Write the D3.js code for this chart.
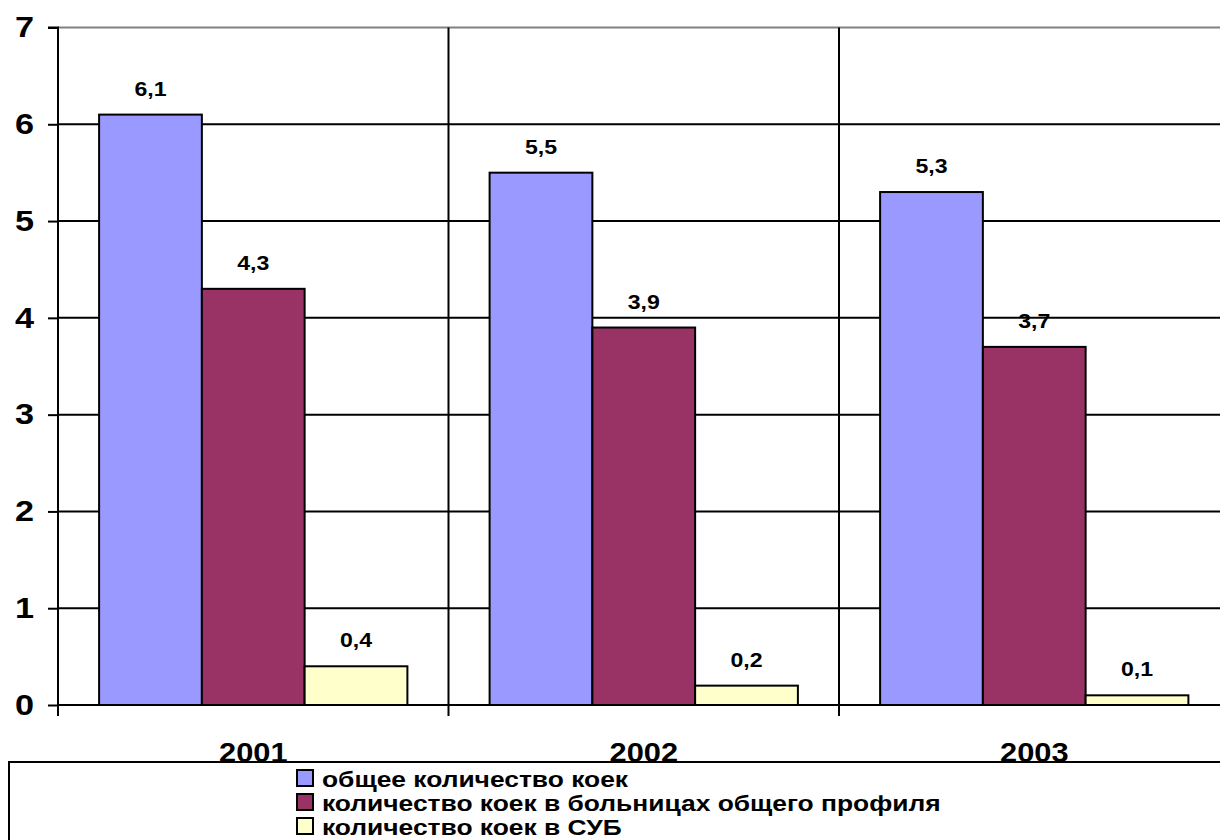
<!DOCTYPE html>
<html>
<head>
<meta charset="utf-8">
<script src="https://cdn.jsdelivr.net/npm/d3@7"></script>
<style>
  html, body { margin: 0; padding: 0; background: #fff; }
  svg { display: block; font-family: "Liberation Sans", Arial, sans-serif; }
</style>
</head>
<body>
<svg id="chart" width="1220" height="840"></svg>
<script>
// Hospital beds per year (thousands)
const years = ["2001", "2002", "2003"];
const seriesNames = [
  "общее количество коек",
  "количество коек в больницах общего профиля",
  "количество коек в СУБ"
];
const totalBeds   = [6.1, 5.5, 5.3];
const generalBeds = [4.3, 3.9, 3.7];
const subBeds     = [0.4, 0.2, 0.1];
const yTicks = [0, 1, 2, 3, 4, 5, 6, 7];
const colors = ["#9999FF", "#993366", "#FFFFCC"];

const seriesValues = [totalBeds, generalBeds, subBeds];

// text is drawn slightly wide
const stretch = 1.18;

const svg = d3.select("#chart");
const plot = { left: 58, top: 27.5, bottom: 705, step: 390.5 };

const y = d3.scaleLinear().domain([0, 7]).range([plot.bottom, plot.top]);
const x0 = d3.scaleBand().domain(years)
  .range([plot.left, plot.left + plot.step * years.length])
  .paddingInner(0).paddingOuter(0);
const x1 = d3.scaleBand().domain(d3.range(seriesNames.length))
  .range([0, x0.bandwidth()]).paddingInner(0).paddingOuter(0.4);

const fmt = v => d3.format(".1f")(v).replace(".", ",");

// horizontal gridlines
svg.append("g").selectAll("line").data(yTicks.filter(t => t > 0)).join("line")
  .attr("x1", plot.left).attr("x2", 1220)
  .attr("y1", d => y(d)).attr("y2", d => y(d))
  .attr("stroke", d => d === 7 ? "#808080" : "#000")
  .attr("stroke-width", 2);

// vertical separators between categories
const bounds = years.map((d, i) => plot.left + plot.step * (i + 1));
svg.append("g").selectAll("line").data(bounds).join("line")
  .attr("x1", d => d).attr("x2", d => d)
  .attr("y1", plot.top).attr("y2", plot.bottom + 11)
  .attr("stroke", "#000").attr("stroke-width", 2);

// bars
const groups = svg.append("g").selectAll("g").data(years).join("g")
  .attr("transform", d => `translate(${x0(d)},0)`);

const cells = (d, i) => seriesValues.map((vals, s) => ({ s, v: vals[i] }));

groups.selectAll("rect").data(cells).join("rect")
  .attr("x", d => x1(d.s))
  .attr("width", x1.bandwidth())
  .attr("y", d => y(d.v))
  .attr("height", d => y(0) - y(d.v))
  .attr("fill", d => colors[d.s])
  .attr("stroke", "#000").attr("stroke-width", 2);

groups.selectAll("text").data(cells).join("text")
  .attr("transform", d => `translate(${x1(d.s) + x1.bandwidth() / 2},${y(d.v) - 19}) scale(1.1,1)`)
  .attr("text-anchor", "middle")
  .attr("font-size", 21).attr("font-weight", "bold")
  .text(d => fmt(d.v));

// y axis
const yAxis = d3.axisLeft(y).tickValues(yTicks).tickSize(10).tickPadding(14).tickFormat(d3.format("d"));
const yg = svg.append("g").attr("transform", `translate(${plot.left},0)`).call(yAxis);
yg.select(".domain").attr("stroke", "#000").attr("stroke-width", 2)
  .attr("d", `M-10,${plot.top}H0V${plot.bottom + 11}`);
yg.selectAll(".tick line").attr("stroke", "#000").attr("stroke-width", 2);
yg.selectAll(".tick text")
  .attr("x", 0)
  .attr("transform", `translate(-24,0) scale(${stretch},1)`)
  .attr("font-size", 29).attr("font-weight", "bold")
  .attr("fill", "#000").attr("font-family", "Liberation Sans, Arial, sans-serif");

// x baseline
svg.append("line")
  .attr("x1", plot.left).attr("x2", 1220)
  .attr("y1", y(0)).attr("y2", y(0))
  .attr("stroke", "#000").attr("stroke-width", 2);

// category labels
svg.append("g").selectAll("text").data(years).join("text")
  .attr("transform", d => `translate(${x0(d) + x0.bandwidth() / 2},762) scale(1.1,1)`)
  .attr("text-anchor", "middle")
  .attr("font-size", 28).attr("font-weight", "bold")
  .text(d => d);

// legend
const legend = svg.append("g");
legend.append("rect")
  .attr("x", 9).attr("y", 762).attr("width", 1240).attr("height", 120)
  .attr("fill", "#fff").attr("stroke", "#000").attr("stroke-width", 2);

const rows = legend.selectAll("g.row").data(seriesNames).join("g")
  .attr("class", "row")
  .attr("transform", (d, i) => `translate(297,${778 + i * 24})`);
rows.append("rect")
  .attr("x", 0).attr("y", -8).attr("width", 16).attr("height", 16)
  .attr("fill", (d, i) => colors[i]).attr("stroke", "#000").attr("stroke-width", 2);
rows.append("text")
  .attr("transform", `translate(25,9) scale(1.2,1)`)
  .attr("font-size", 22).attr("font-weight", "bold")
  .text(d => d);
</script>
</body>
</html>
